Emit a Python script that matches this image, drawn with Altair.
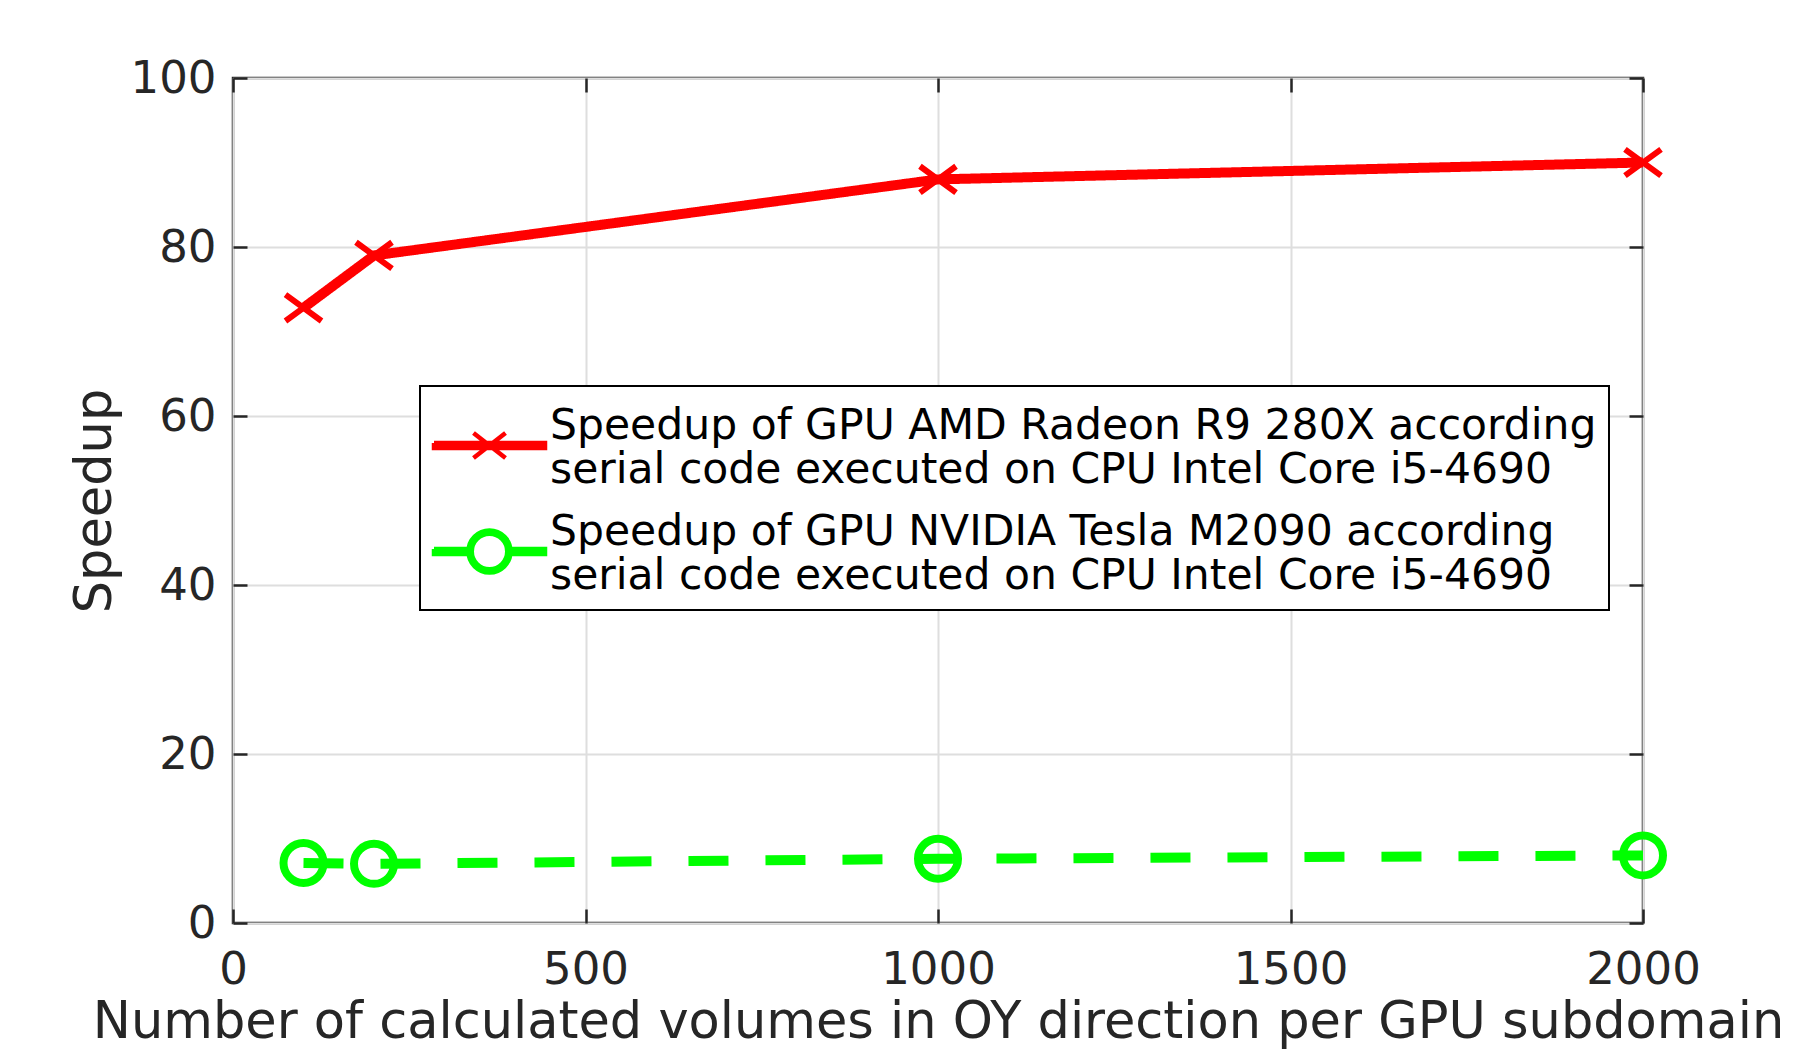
import altair as alt
import pandas as pd

# ---- data ----
volumes = [100, 200, 1000, 2000]
speedup_amd = [72.8, 79.0, 88.0, 90.0]
speedup_nvidia = [7.1, 7.0, 7.6, 8.0]
series_names = [
    "Speedup of GPU AMD Radeon R9 280X according|serial code executed on CPU Intel Core i5-4690",
    "Speedup of GPU NVIDIA Tesla M2090 according|serial code executed on CPU Intel Core i5-4690",
]
series_colors = ["#ff0000", "#00ff00"]
x_ticks = [0, 500, 1000, 1500, 2000]
y_ticks = [0, 20, 40, 60, 80, 100]

rows = []
for v, a in zip(volumes, speedup_amd):
    rows.append({"volumes": v, "speedup": a, "series": series_names[0]})
for v, n in zip(volumes, speedup_nvidia):
    rows.append({"volumes": v, "speedup": n, "series": series_names[1]})
df = pd.DataFrame(rows)

W, H = 1410, 845
FONT = "DejaVu Sans"
TXT = "#262626"
GRID = "#dedede"

X_PATH = "M-1,-0.73L1,0.73M-1,0.73L1,-0.73"
# legend glyphs (line + marker), in units of half the symbol size (25 px), drawn slightly below centre
LEG_RED = ("M-2.22,0.7L2.22,0.7L2.22,0.9L-2.22,0.9L-2.22,0.7"
           "M-0.64,0.3L0.64,1.3M-0.64,1.3L0.64,0.3")
LEG_GREEN = ("M-2.22,0.7L-0.8,0.7L-0.8,0.9L-2.22,0.9L-2.22,0.7"
             "M0.8,0.7L2.22,0.7L2.22,0.9L0.8,0.9L0.8,0.7"
             "M0.84,0.8A0.84,0.84,0,1,1,-0.84,0.8A0.84,0.84,0,1,1,0.84,0.8"
             "M0.71,0.8A0.71,0.71,0,1,0,-0.71,0.8A0.71,0.71,0,1,0,0.71,0.8")

x_scale = alt.Scale(domain=[0, 2000], nice=False, zero=False)
y_scale = alt.Scale(domain=[0, 100], nice=False)

main_x = alt.Axis(values=x_ticks, format="d", title="Number of calculated volumes in OY direction per GPU subdomain",
                  grid=True, gridColor=GRID, gridWidth=2, ticks=False, tickSize=0, domain=False,
                  labelFont=FONT, labelFontSize=45, labelColor=TXT, labelPadding=24,
                  titleFont=FONT, titleFontSize=51, titleFontWeight="normal", titleColor=TXT,
                  titlePadding=5, labelFlush=False)
main_y = alt.Axis(values=y_ticks, title="Speedup",
                  grid=True, gridColor=GRID, gridWidth=2, ticks=False, tickSize=0, domain=False,
                  labelFont=FONT, labelFontSize=45, labelColor=TXT, labelPadding=17,
                  titleFont=FONT, titleFontSize=51, titleFontWeight="normal", titleColor=TXT,
                  titlePadding=9)

def tick_axis(orient, offset, values):
    return alt.Axis(orient=orient, offset=offset, values=values, labels=False, domain=False,
                    grid=False, ticks=True, tickSize=14, tickWidth=2.5, tickColor=TXT, title=None)

base = alt.Chart(df)

lines = base.mark_line(strokeWidth=10).encode(
    x=alt.X("volumes:Q", scale=x_scale, axis=main_x),
    y=alt.Y("speedup:Q", scale=y_scale, axis=main_y),
    color=alt.Color("series:N", scale=alt.Scale(domain=series_names, range=series_colors), legend=None),
    strokeDash=alt.StrokeDash("series:N", scale=alt.Scale(domain=series_names, range=[[1, 0], [40, 37]]),
                              legend=None),
)

red_pts = base.transform_filter(alt.datum.series == series_names[0]).mark_point(
    shape=X_PATH, filled=False, size=1300, strokeWidth=6, color=series_colors[0], opacity=1
).encode(
    x=alt.X("volumes:Q", scale=x_scale, axis=tick_axis("top", -H, x_ticks)),
    y=alt.Y("speedup:Q", scale=y_scale, axis=tick_axis("right", -W, y_ticks)),
)

green_pts = base.transform_filter(alt.datum.series == series_names[1]).mark_point(
    shape="circle", filled=False, size=1600, strokeWidth=8, color=series_colors[1], opacity=1
).encode(
    x=alt.X("volumes:Q", scale=x_scale, axis=tick_axis("bottom", -H, x_ticks)),
    y=alt.Y("speedup:Q", scale=y_scale, axis=tick_axis("left", -W, y_ticks)),
)

legend_def = alt.Legend(orient="none", legendX=187, legendY=308, direction="vertical", title=None,
                        labelExpr="split(datum.label, '|')", labelFont=FONT, labelFontSize=42.5,
                        labelColor="black", labelLimit=2000, labelOffset=33,
                        symbolSize=2500, symbolStrokeWidth=4.5, symbolOpacity=1, symbolOffset=30,
                        padding=12, strokeColor="black", fillColor="white", rowPadding=12)

legend_layer = base.mark_point(opacity=0, filled=False).encode(
    x=alt.X("volumes:Q", scale=x_scale, axis=None),
    y=alt.Y("speedup:Q", scale=y_scale, axis=None),
    fill=alt.Fill("series:N", scale=alt.Scale(domain=series_names, range=series_colors), legend=legend_def),
    stroke=alt.Stroke("series:N", scale=alt.Scale(domain=series_names, range=series_colors), legend=legend_def),
    shape=alt.Shape("series:N", scale=alt.Scale(domain=series_names, range=[LEG_RED, LEG_GREEN]),
                    legend=legend_def),
)

chart = alt.layer(lines, red_pts, green_pts, legend_layer).resolve_axis(
    x="independent", y="independent"
).resolve_scale(fill="independent", stroke="independent", shape="independent").properties(
    width=W, height=H,
    autosize=alt.AutoSizeParams(type="none"),
    padding={"left": 225, "top": 70, "right": 160, "bottom": 127},
    background="white",
).configure_view(stroke=TXT, strokeWidth=2.5).configure_legend(strokeWidth=2)

chart.save("out.html", embed_options={"renderer": "svg", "actions": False})
